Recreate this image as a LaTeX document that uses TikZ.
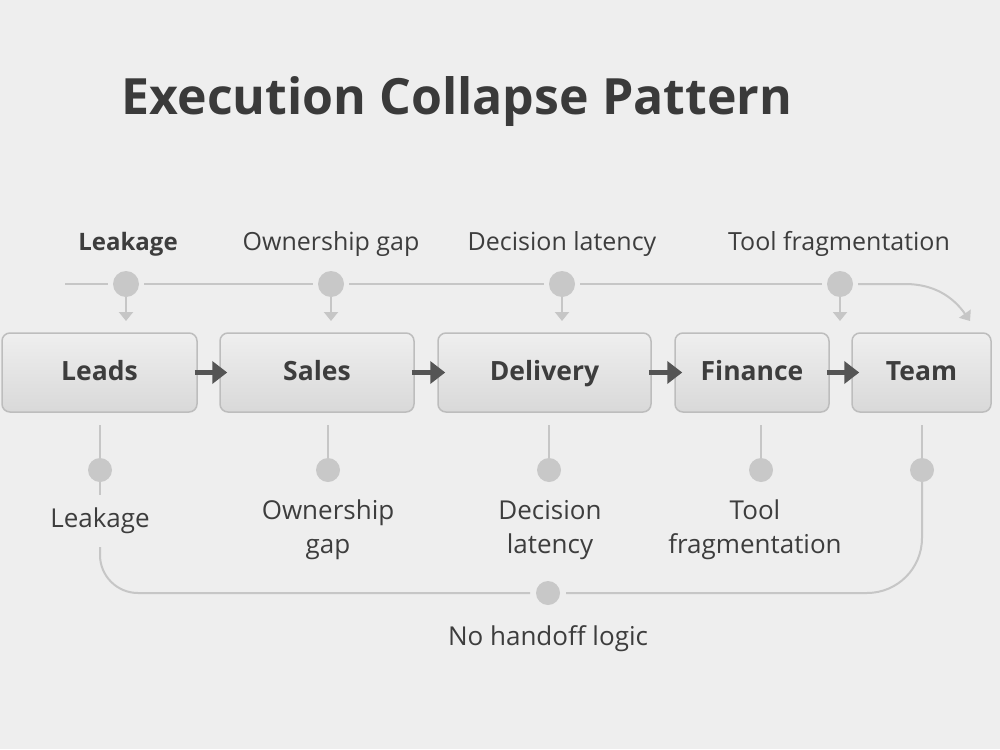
\documentclass[tikz,border=0pt]{standalone}
\usepackage{fontspec}
\setmainfont{Open Sans}
\usetikzlibrary{arrows.meta}
\definecolor{bgc}{HTML}{EEEEEE}
\definecolor{titlec}{HTML}{3A3A3A}
\definecolor{txtc}{HTML}{3D3D3D}
\definecolor{linec}{HTML}{C6C6C6}
\definecolor{dotc}{HTML}{C8C8C8}
\definecolor{boxfill}{HTML}{E4E4E4}
\definecolor{boxline}{HTML}{BDBDBD}
\definecolor{darkarr}{HTML}{555555}
\tikzset{
  stagebox/.style={draw=boxline, line width=1.5pt, rounded corners=8pt,
    top color=boxfill!60!white, bottom color=boxfill!95!black, minimum height=79pt,
    text height=20pt, text depth=4pt,
    font=\bfseries\fontsize{26.5}{30}\selectfont, text=txtc},
  toplabel/.style={font=\fontsize{25}{30}\selectfont, text=txtc},
  botlabel/.style={font=\fontsize{26}{34}\selectfont, text=txtc, align=center},
  dot/.style={circle, fill=dotc, minimum size=26pt, inner sep=0pt, outer sep=5pt},
  sdot/.style={circle, fill=dotc, minimum size=24pt, inner sep=0pt, outer sep=0pt},
  thinline/.style={draw=linec, line width=2pt},
  smallarr/.style={draw=linec, line width=2pt, -{Triangle[length=9pt,width=14pt]}},
  flowarr/.style={draw=darkarr, line width=5pt, -{Triangle[length=15pt,width=22pt]}, shorten >=-8pt, shorten <=-3pt},
}
\begin{document}
\begin{tikzpicture}[x=1pt,y=-1pt]
\fill[bgc] (0,0) rectangle (1000,749);
\useasboundingbox (0,0) rectangle (1000,749);

\node[font=\bfseries\fontsize{50}{60}\selectfont, text=titlec] (title) at (457,102) {Execution Collapse Pattern};

% top labels
\node[toplabel, font=\bfseries\fontsize{24}{30}\selectfont] (t1) at (128,244) {Leakage};
\node[toplabel] (t2) at (331,244) {Ownership gap};
\node[toplabel] (t3) at (562,244) {Decision latency};
\node[toplabel] (t4) at (839,244) {Tool fragmentation};

% top dots
\coordinate (tstart) at (65,284);
\node[dot] (d1) at (126,284) {};
\node[dot] (d2) at (331,284) {};
\node[dot] (d3) at (562,284) {};
\node[dot] (d4) at (840,284) {};
\coordinate (tbend) at (905,284);
\coordinate (tend) at (970,321);

\draw[thinline] (tstart) -- (d1);
\draw[thinline] (d1) -- (d2);
\draw[thinline] (d2) -- (d3);
\draw[thinline] (d3) -- (d4);
\draw[smallarr] (d4) -- (tbend) to[out=0,in=125] (tend);

% boxes
\node[stagebox, minimum width=195pt] (leads) at (99.5,372.5) {Leads};
\node[stagebox, minimum width=194pt] (sales) at (317,372.5) {Sales};
\node[stagebox, minimum width=213pt] (delivery) at (544.5,372.5) {Delivery};
\node[stagebox, minimum width=154pt] (finance) at (752,372.5) {Finance};
\node[stagebox, minimum width=139pt] (team) at (921.5,372.5) {Team};

% small down arrows
\coordinate (a1) at (126,321);
\coordinate (a2) at (331,321);
\coordinate (a3) at (562,321);
\coordinate (a4) at (840,321);
\draw[smallarr] (d1.center) ++(0,13) -- (a1);
\draw[smallarr] (d2.center) ++(0,13) -- (a2);
\draw[smallarr] (d3.center) ++(0,13) -- (a3);
\draw[smallarr] (d4.center) ++(0,13) -- (a4);

% flow arrows
\draw[flowarr] (leads) -- (sales);
\draw[flowarr] (sales) -- (delivery);
\draw[flowarr] (delivery) -- (finance);
\draw[flowarr] (finance) -- (team);

% bottom
\coordinate (b1) at (100,425);
\coordinate (b2) at (328,425);
\coordinate (b3) at (549,425);
\coordinate (b4) at (761,425);
\coordinate (b5) at (922,425);
\node[sdot] (e1) at (100,470) {};
\node[sdot] (e2) at (328,470) {};
\node[sdot] (e3) at (549,470) {};
\node[sdot] (e4) at (761,470) {};
\node[sdot] (e5) at (922,470) {};
\draw[thinline] (b1) -- (e1);
\draw[thinline] (b2) -- (e2);
\draw[thinline] (b3) -- (e3);
\draw[thinline] (b4) -- (e4);
\draw[thinline] (b5) -- (e5);

\node[botlabel, inner ysep=13pt] (l1) at (100,521) {Leakage};
\node[botlabel] (l2) at (328,530) {Ownership\\gap};
\node[botlabel] (l3) at (550,530) {Decision\\latency};
\node[botlabel] (l4) at (755,530) {Tool\\fragmentation};

\node[sdot, outer sep=6pt] (hd) at (548,593) {};
\node[botlabel] (nh) at (548,639) {No handoff logic};

\draw[thinline] (e1) -- (l1);
\draw[thinline, rounded corners=38pt] (l1.south) |- (hd);
\draw[thinline, rounded corners=55pt] (hd) -| (e5);
\end{tikzpicture}
\end{document}
